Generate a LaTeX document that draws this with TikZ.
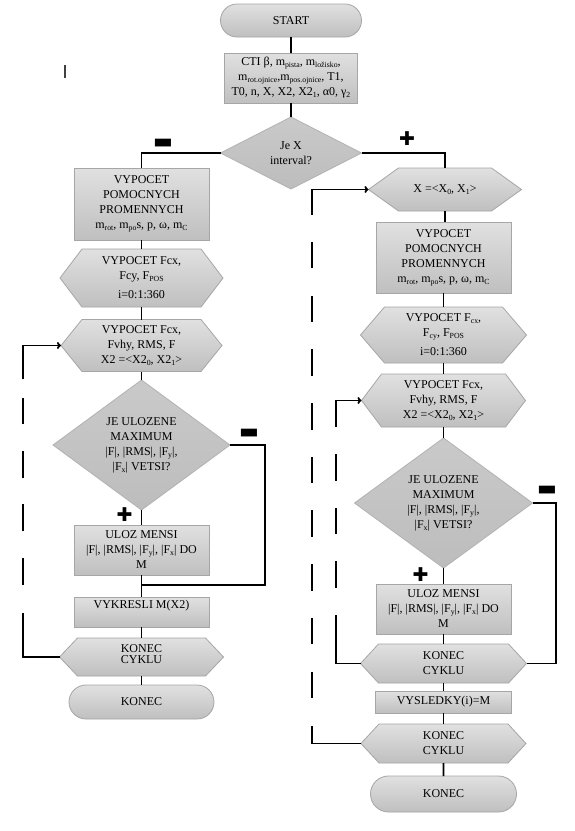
\documentclass[tikz,border=0pt]{standalone}
\usepackage{fontspec}
\setmainfont{Liberation Serif}
\newfontfamily\djv{DejaVu Sans}
\newfontfamily\tms{Liberation Serif}
\usetikzlibrary{shapes.misc,shapes.geometric,arrows.meta}
\newcommand{\sbx}[1]{\raisebox{-0.35ex}{\fontsize{7.8}{7.8}\selectfont #1}}
% hexagon: name, x, y, width, height, slant, text
\newcommand{\hexnode}[7]{%
  \path[shade box] ({#2-#4/2},#3) -- ({#2-#4/2+#6},{#3-#5/2}) -- ({#2+#4/2-#6},{#3-#5/2})
     -- ({#2+#4/2},#3) -- ({#2+#4/2-#6},{#3+#5/2}) -- ({#2-#4/2+#6},{#3+#5/2}) -- cycle;
  \node[minimum width=#4pt, minimum height=#5pt] (#1) at (#2,#3) {#7};}
\begin{document}
\begin{tikzpicture}[x=1pt,y=-1pt,
  every node/.style={font=\tms\fontsize{12}{15}\selectfont, align=center, inner sep=0pt, outer sep=0pt},
  shade box/.style={draw=black!35, line width=0.8pt, top color=black!12, bottom color=black!25},
  procbox/.style 2 args={shade box, rectangle, minimum width=#1, minimum height=#2},
  term/.style 2 args={shade box, rounded rectangle, minimum width=#1, minimum height=#2},
  dia/.style 2 args={draw=black!30, line width=0.8pt, top color=black!21, bottom color=black!26,
     diamond, minimum width=#1, minimum height=#2},
  conn/.style={draw=black, line width=1.8pt},
  tip/.style={-{To[length=4pt,width=7pt]}},
  signtxt/.style={font=\djv\fontsize{21}{21}\selectfont},
  plustxt/.style={font=\djv\fontsize{19}{19}\selectfont}
]
\fill[white] (0,0) rectangle (575,831);
\useasboundingbox (0,0) rectangle (575,831);

% stray tick
\draw[line width=1.2pt, black!75] (65,65) -- (65,78);

% top column
\node[term={141pt}{33pt}] (start) at (291,20.5) {START};
\node[procbox={133pt}{50pt}] (cti) at (291,78)
  {CTI β, m\sbx{pista}, m\sbx{ložisko},\\ m\sbx{rot.ojnice},m\sbx{pos.ojnice}, T1,\\ T0, n, X, X2, X2\sbx{1}, α0, γ\sbx{2}};
\node[dia={141pt}{72pt}] (d1) at (291,153) {Je X\\interval?};

% left column
\node[procbox={135pt}{72pt}] (lb1) at (141.5,204)
  {VYPOCET\\POMOCNYCH\\PROMENNYCH\\m\sbx{rot}, m\sbx{po}s, p, ω, m\sbx{C}};
\hexnode{lh1}{141.5}{278}{163}{58}{22}{VYPOCET Fcx,\\Fcy, F\sbx{POS}\\[4pt]i=0:1:360}
\hexnode{lh2}{141.5}{345.5}{161}{52}{21}{VYPOCET Fcx,\\Fvhy, RMS, F\\X2 =<X2\sbx{0}, X2\sbx{1}>}
\node[dia={177pt}{130pt}] (ld2) at (141.5,445)
  {JE ULOZENE\\MAXIMUM\\|F|, |RMS|, |F\sbx{y}|,\\|F\sbx{x}| VETSI?};
\node[procbox={135pt}{50pt}] (lb2) at (141.5,550)
  {ULOZ MENSI\\|F|, |RMS|, |F\sbx{y}|, |F\sbx{x}| DO\\M};
\node[procbox={135pt}{30pt}] (lb3) at (141.5,612)
  {\raisebox{6pt}[\height][\depth]{VYKRESLI M(X2)}};
\hexnode{lkc}{141.5}{657}{164}{38}{18}{\raisebox{3pt}[\height][\depth]{\shortstack{KONEC\\CYKLU}}}
\node[term={145pt}{34pt}] (lend) at (141.5,702) {KONEC};

% right column
\hexnode{rh0}{445}{189.5}{153}{43}{30}{X =<X\sbx{0}, X\sbx{1}>}
\node[procbox={135pt}{71pt}] (rb1) at (443.5,257.5)
  {VYPOCET\\POMOCNYCH\\PROMENNYCH\\m\sbx{rot}, m\sbx{po}s, p, ω, m\sbx{C}};
\hexnode{rh1}{443.5}{335}{166}{56}{24}{VYPOCET F\sbx{cx},\\F\sbx{cy}, F\sbx{POS}\\[4pt]i=0:1:360}
\hexnode{rh2}{443.5}{400.5}{164}{53}{20}{VYPOCET Fcx,\\Fvhy, RMS, F\\X2 =<X2\sbx{0}, X2\sbx{1}>}
\node[dia={178pt}{130pt}] (rd2) at (443.5,503)
  {JE ULOZENE\\MAXIMUM\\|F|, |RMS|, |F\sbx{y}|,\\|F\sbx{x}| VETSI?};
\node[procbox={135pt}{50pt}] (rb2) at (443.5,609)
  {ULOZ MENSI\\|F|, |RMS|, |F\sbx{y}|, |F\sbx{x}| DO\\M};
\hexnode{rkc1}{443.5}{663.5}{166}{39}{18}{KONEC\\CYKLU}
\node[procbox={136pt}{22pt}] (rb3) at (443.5,702) {VYSLEDKY(i)=M};
\hexnode{rkc2}{443.5}{743.5}{165}{39}{18}{KONEC\\CYKLU}
\node[term={146pt}{36pt}] (rend) at (443.5,794) {KONEC};

% signs
\node[signtxt] (m1) at (163,143.5) {▬};
\node[plustxt] (p1) at (407,139) {✚};
\node[plustxt] (p2) at (124.5,515) {✚};
\node[signtxt] (m2) at (249,433.5) {▬};
\node[plustxt] (p3) at (420.5,575) {✚};
\node[signtxt] (m3) at (547,491) {▬};

% helper coordinates
\coordinate (lra) at (265,585);
\coordinate (lja) at (141.5,585);
\coordinate (rra) at (556,663.5);
\coordinate (lla) at (23,657);
\coordinate (ria) at (336,663.5);
\coordinate (roa) at (312,743.5);

% main connectors
\draw[conn] (start) -- (cti);
\draw[conn] (cti) -- (d1);
\draw[conn] (d1.west) -| (lb1.north);
\draw[conn] (d1.east) -| (rh0.north);

\draw[conn] (lb1) -- (lh1);
\draw[conn] (lh1) -- (lh2);
\draw[conn] (lh2) -- (ld2);
\draw[conn] (ld2) -- (lb2);
\draw[conn] (lb2) -- (lb3);
\draw[conn] (lb3) -- (lkc);
\draw[conn] (lkc) -- (lend);
\draw[conn] (ld2.east) -| (lra) -- (lja);

\draw[conn] (rh0.south) -- (rh0.south |- rb1.north);
\draw[conn] (rb1) -- (rh1);
\draw[conn] (rh1) -- (rh2);
\draw[conn] (rh2) -- (rd2);
\draw[conn] (rd2) -- (rb2);
\draw[conn] (rb2) -- (rkc1);
\draw[conn] (rkc1) -- (rb3);
\draw[conn] (rb3) -- (rkc2);
\draw[conn] (rkc2) -- (rend);
\draw[conn] (rd2.east) -| (rra) -- (rkc1.east);

% loops
\draw[conn, tip, dash pattern=on 80.7pt off 28.3pt on 26.7pt off 26.7pt on 26.7pt off 26.7pt on 26.6pt off 26.7pt on 26.7pt off 18.3pt on 200pt]
  (lkc.west) -- (lla) |- (lh2.west);
\draw[conn, tip, dash pattern=on 73.5pt off 27pt on 26.5pt off 27pt on 26.5pt off 27pt on 26.5pt off 27pt on 200pt]
  (rkc1.west) -- (ria) |- (rh2.west);
\draw[conn, tip, dash pattern=on 66.5pt off 28pt on 26.5pt off 27.2pt on 26.5pt off 27.2pt on 26.5pt off 27.2pt on 26.5pt off 27.2pt on 26.5pt off 27.2pt on 26.5pt off 27.2pt on 26.5pt off 27.2pt on 26.5pt off 27.2pt on 26.5pt off 27.2pt on 200pt]
  (rkc2.west) -- (roa) |- (rh0.west);
\end{tikzpicture}
\end{document}
